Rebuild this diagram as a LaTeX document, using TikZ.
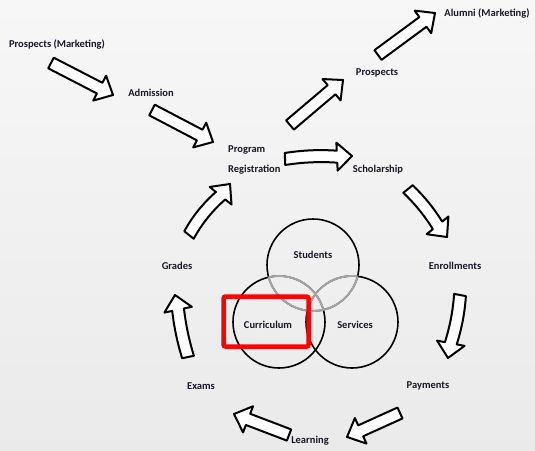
\documentclass[tikz,border=0pt]{standalone}
\usepackage{fontspec}
\setmainfont{Carlito}
\usetikzlibrary{calc}
\definecolor{txt}{RGB}{24,24,40}
\definecolor{bgtop}{RGB}{247,247,247}
\definecolor{bgbot}{RGB}{234,234,234}
\definecolor{ringgrey}{RGB}{165,165,165}
\tikzset{
  lbl/.style={font=\bfseries\fontsize{10.5}{12}\selectfont, text=txt, inner sep=0pt},
  barrow/.style={draw=black, fill=white, line width=2pt, line join=round},
  ring/.style={draw=black, line width=1.6pt},
  ringgray/.style={draw=ringgrey, line width=1.9pt},
  hilite/.style={draw=red, line width=4.5pt, rounded corners=2pt, minimum width=85pt, minimum height=50pt, inner sep=0pt},
}
% block arrow from #1 to #2, bulging by #3 (pt) to the left of the direction of travel
\newcommand\blockarrow[3]{%
  \path[barrow] let \p1=(#1), \p2=(#2),
      \n1={atan2(\y2-\y1,\x2-\x1)}, \n2={veclen(\x2-\x1,\y2-\y1)}, \n3={\n2-15} in
    [shift={(\x1,\y1)}, rotate=\n1]
    (0pt,6pt) .. controls ({\n3/3*1pt},{(6+(#3))*1pt}) and ({\n3*2/3*1pt},{(6+(#3))*1pt}) .. ({\n3*1pt},6pt)
    -- ({\n3*1pt},14pt) -- ({\n2*1pt},0pt) -- ({\n3*1pt},-14pt) -- ({\n3*1pt},-6pt)
    .. controls ({\n3*2/3*1pt},{(-6+(#3))*1pt}) and ({\n3/3*1pt},{(-6+(#3))*1pt}) .. (0pt,-6pt)
    -- cycle;
}
\begin{document}
\begin{tikzpicture}[x=1pt,y=-1pt]
\useasboundingbox (0,0) rectangle (535,450);
\shade[top color=bgtop, bottom color=bgbot] (0,0) rectangle (535,450);

% labels
\node[lbl] (pm)  at (57,44)  {Prospects (Marketing)};
\node[lbl] (adm) at (151,93) {Admission};
\node[lbl, align=left, anchor=west, font=\bfseries\fontsize{10.5}{20}\selectfont] (reg) at (228,160) {Program\\Registration};
\node[lbl] (sch) at (378,170) {Scholarship};
\node[lbl] (pr)  at (377,73) {Prospects};
\node[lbl] (alu) at (487,13) {Alumni (Marketing)};
\node[lbl] (enr) at (455,266) {Enrollments};
\node[lbl] (pay) at (428,386) {Payments};
\node[lbl] (lea) at (310,441) {Learning};
\node[lbl] (exa) at (201,386) {Exams};
\node[lbl] (gra) at (177,266) {Grades};

% arrow end points
\coordinate (a1s) at (51,63);   \coordinate (a1e) at (113,95);
\coordinate (a2s) at (152,110); \coordinate (a2e) at (213,142);
\coordinate (a3s) at (285,159); \coordinate (a3e) at (352,156);
\coordinate (a4s) at (290,125); \coordinate (a4e) at (343,80);
\coordinate (a5s) at (378,55);  \coordinate (a5e) at (435,13);
\coordinate (a6s) at (408,189); \coordinate (a6e) at (447,237);
\coordinate (a7s) at (460,295); \coordinate (a7e) at (448,358);
\coordinate (a8s) at (400,413); \coordinate (a8e) at (347,437);
\coordinate (a9s) at (289,435); \coordinate (a9e) at (234,414);
\coordinate (a10s) at (188,357); \coordinate (a10e) at (175,295);
\coordinate (a11s) at (189,235); \coordinate (a11e) at (230,184);

\blockarrow{a1s}{a1e}{0}
\blockarrow{a2s}{a2e}{0}
\blockarrow{a3s}{a3e}{2}
\blockarrow{a4s}{a4e}{0}
\blockarrow{a5s}{a5e}{0}
\blockarrow{a6s}{a6e}{2}
\blockarrow{a7s}{a7e}{2}
\blockarrow{a8s}{a8e}{0}
\blockarrow{a9s}{a9e}{0}
\blockarrow{a10s}{a10e}{1.5}
\blockarrow{a11s}{a11e}{3}

% Venn circles
\coordinate (cs) at (313,265);
\coordinate (cc) at (279,322);
\coordinate (cv) at (352,322);
\draw[ring] (cs) circle (46pt);
\draw[ring] (cc) circle (46pt);
\draw[ring] (cv) circle (46pt);
\begin{scope}
  \clip (cs) circle (46pt);
  \draw[ringgray] (cc) circle (46pt);
  \draw[ringgray] (cv) circle (46pt);
\end{scope}
\begin{scope}
  \clip (cc) circle (46pt);
  \draw[ringgray] (cs) circle (46pt);
\end{scope}
\begin{scope}
  \clip (cv) circle (46pt);
  \draw[ringgray] (cs) circle (46pt);
\end{scope}

\node[lbl] (stu) at (313,255) {Students};
\node[lbl] (cur) at (268,325) {Curriculum};
\node[lbl] (ser) at (355,325) {Services};

\node[hilite] (box) at (266,321.5) {};
\end{tikzpicture}
\end{document}
